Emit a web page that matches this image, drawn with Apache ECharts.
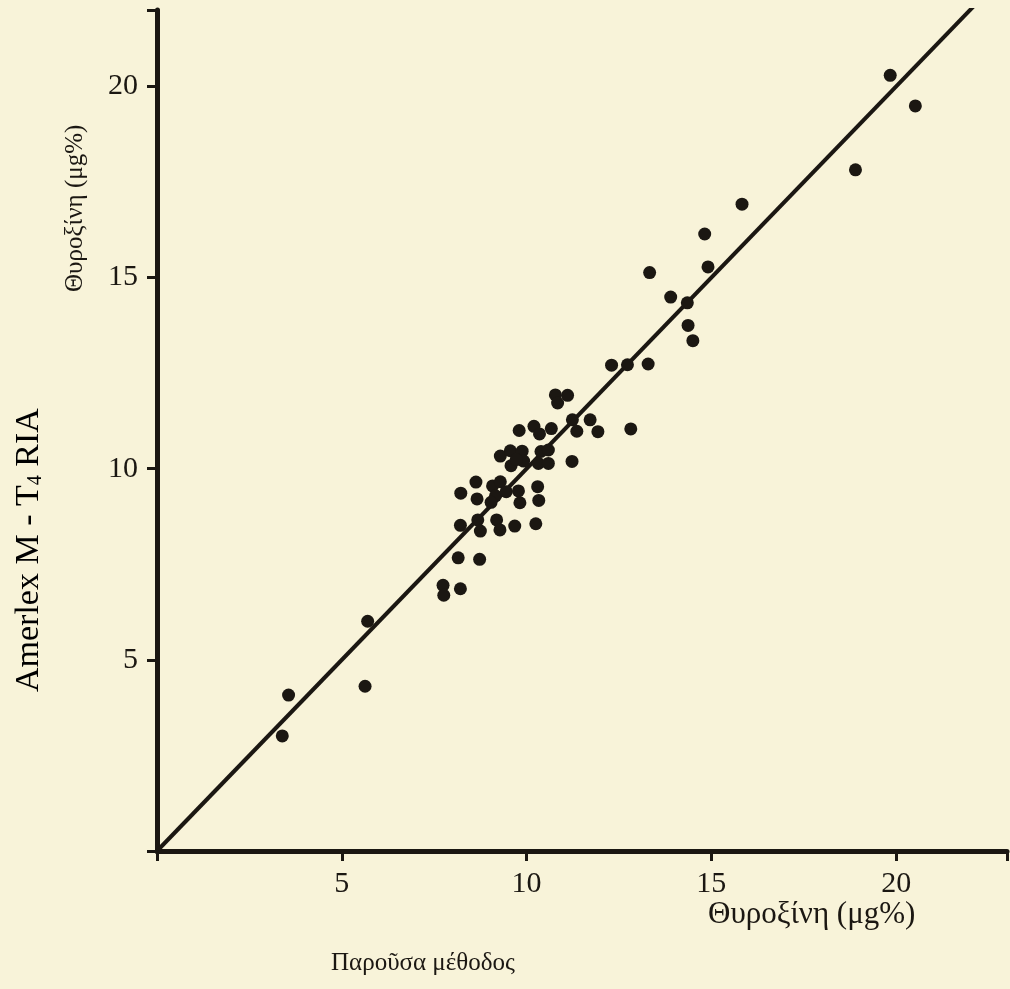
<!DOCTYPE html>
<html>
<head>
<meta charset="utf-8">
<script src="https://cdn.jsdelivr.net/npm/echarts@6/dist/echarts.min.js"></script>
<style>
  html, body { margin: 0; padding: 0; background: #f8f3d9; }
  #main { width: 1010px; height: 989px; }
</style>
</head>
<body>
<div id="main"></div>
<script>
// μετρήσεις: παρούσα μέθοδος (x) και Amerlex M - T4 RIA (y), μg%
var presentMethod = [
  19.84, 20.52, 18.90, 15.83, 14.82, 14.91, 13.33, 13.90, 14.35, 14.37,
  14.50, 12.30, 12.73, 13.29, 10.78, 11.11, 10.84, 11.24, 11.72, 11.36,
  11.93, 12.82, 9.80, 10.20, 10.35, 10.67, 11.23, 9.29, 9.56, 9.88,
  9.58, 9.92, 10.39, 10.59, 10.32, 10.59, 8.63, 8.22, 8.66, 9.08,
  9.29, 9.16, 9.45, 9.78, 10.30, 9.82, 10.33, 9.04, 8.21, 8.68,
  8.75, 9.19, 9.28, 9.68, 10.25, 8.15, 8.73, 7.74, 8.21, 7.76,
  5.70, 5.63, 3.56, 3.39, 9.72
];
var amerlexRIA = [
  20.29, 19.49, 17.82, 16.92, 16.14, 15.28, 15.13, 14.49, 14.34, 13.75,
  13.35, 12.71, 12.72, 12.74, 11.93, 11.92, 11.72, 11.28, 11.28, 10.98,
  10.97, 11.04, 11.00, 11.11, 10.91, 11.05, 10.19, 10.33, 10.47, 10.46,
  10.08, 10.20, 10.45, 10.49, 10.14, 10.14, 9.65, 9.36, 9.21, 9.55,
  9.66, 9.29, 9.40, 9.42, 9.53, 9.11, 9.17, 9.12, 8.52, 8.66,
  8.37, 8.66, 8.40, 8.50, 8.56, 7.67, 7.63, 6.95, 6.86, 6.69,
  6.01, 4.31, 4.08, 3.01, 10.24
];
// ευθεία y = x
var fitX = [0, 22.1];
var fitY = [0, 22.1];
var tickValues = [5, 10, 15, 20];

var ink = '#1b1712';
var serif = '"Liberation Serif", "DejaVu Serif", serif';

var points = presentMethod.map(function (x, i) { return [x, amerlexRIA[i]]; });
var fitLine = fitX.map(function (x, i) { return [x, fitY[i]]; });

function tickLabel(v) {
  return tickValues.indexOf(v) >= 0 ? String(v) : '';
}

var myChart = echarts.init(document.getElementById('main'));

myChart.setOption({
  backgroundColor: '#f8f3d9',
  animation: false,
  grid: { left: 157, right: 0, top: 10, bottom: 138 },
  xAxis: {
    type: 'value', min: 0, max: 23, interval: 5,
    axisLine: { show: true, onZero: false, lineStyle: { color: ink, width: 5 } },
    axisTick: { show: true, length: 10, lineStyle: { color: ink, width: 3 } },
    axisLabel: { formatter: tickLabel, color: ink, fontFamily: serif, fontSize: 30, margin: 18 },
    splitLine: { show: false }
  },
  yAxis: {
    type: 'value', min: 0, max: 22, interval: 5,
    axisLine: { show: true, onZero: false, lineStyle: { color: ink, width: 5 } },
    axisTick: { show: true, length: 10, lineStyle: { color: ink, width: 3 } },
    axisLabel: { formatter: tickLabel, color: ink, fontFamily: serif, fontSize: 30, margin: 19 },
    splitLine: { show: false }
  },
  series: [
    {
      type: 'line',
      data: fitLine,
      symbol: 'none',
      lineStyle: { color: ink, width: 4 },
      z: 2
    },
    {
      type: 'scatter',
      data: points,
      symbol: 'circle',
      symbolSize: 13,
      itemStyle: { color: ink, opacity: 1 },
      z: 3
    }
  ],
  graphic: [
    {
      type: 'text', x: 63, y: 292, rotation: Math.PI / 2,
      style: { text: 'Θυροξίνη (μg%)', font: '25px ' + serif, fill: ink }
    },
    {
      type: 'text', x: 12, y: 692, rotation: Math.PI / 2,
      style: {
        text: '{a|Amerlex M - T}{s|4}{a| RIA}',
        rich: {
          a: { fontFamily: serif, fontSize: 34, color: ink },
          s: { fontFamily: serif, fontSize: 20, color: ink, verticalAlign: 'bottom', padding: [12, 0, 0, 0] }
        }
      }
    },
    {
      type: 'text', left: 708, top: 899,
      style: { text: 'Θυροξίνη (μg%)', font: '31px ' + serif, fill: ink }
    },
    {
      type: 'text', left: 331, top: 951,
      style: { text: 'Παροῦσα μέθοδος', font: '25px ' + serif, fill: ink }
    }
  ]
});
</script>
</body>
</html>
